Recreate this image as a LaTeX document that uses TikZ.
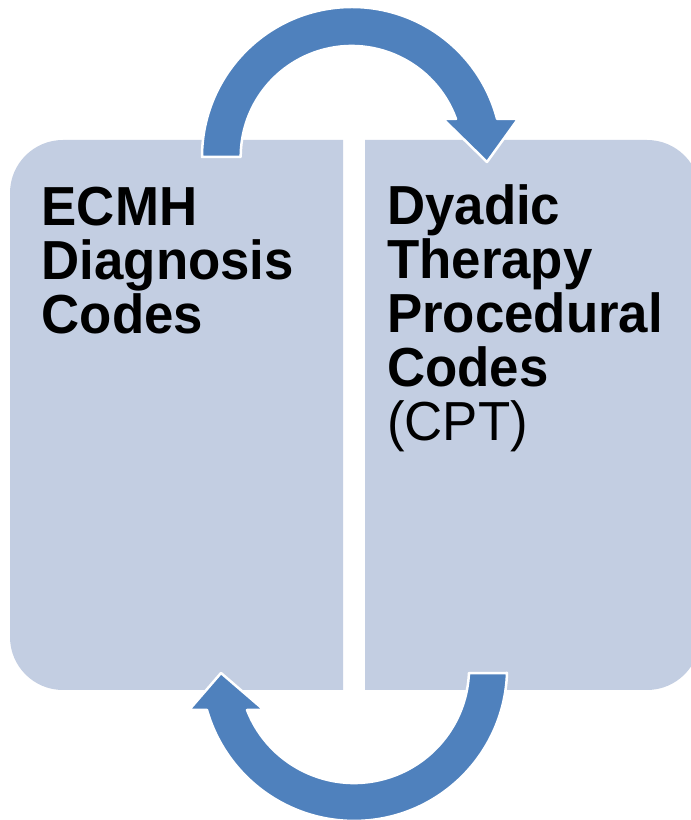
\documentclass[tikz,border=0pt]{standalone}
\usepackage{fontspec}
\setmainfont{Liberation Sans}
\newfontfamily\labelfont[FakeStretch=0.96]{Liberation Sans}
\definecolor{boxfill}{RGB}{195,206,226}
\definecolor{arrowblue}{RGB}{79,129,189}
\begin{document}
\begin{tikzpicture}[x=1pt,y=1pt,
  panel/.style={fill=boxfill, draw=none},
  cyclearrow/.style={fill=arrowblue, draw=white, line width=2.5pt, line join=round},
  label/.style={anchor=base west, inner sep=0pt, align=left, text=black,
    font=\labelfont\fontsize{55}{54}\selectfont}]
\clip (0,0) rectangle (691,820);
\fill[white] (0,0) rectangle (691,820);
% boxes
\path[panel] (343,680) -- (63,680) arc[start angle=90, end angle=180, radius=53]
  -- (10,183) arc[start angle=180, end angle=270, radius=53] -- (343,130) -- cycle;
\path[panel] (365,680) -- (647,680) arc[start angle=90, end angle=0, radius=53]
  -- (700,183) arc[start angle=0, end angle=-90, radius=53] -- (365,130) -- cycle;
% top arrow
\draw[cyclearrow] (202,663) arc[start angle=180, end angle=14.7, radius=150]
  -- (518,701) -- (487,658) -- (443,701) -- (456,701)
  arc[start angle=20, end angle=180, radius=111] -- cycle;
% bottom arrow
\draw[cyclearrow] (507,147) arc[start angle=-1.9, end angle=-164.1, radius=153]
  -- (189,110) -- (221,147) -- (264,110) -- (247,110)
  arc[start angle=-158.6, end angle=-2.5, radius=115] -- cycle;
% texts (anchored at the baseline of the last line)
\node[label] (left) at (41.5,486) {\bfseries ECMH\\\bfseries Diagnosis\\\bfseries Codes};
\node[label] (right) at (387,379) {\bfseries Dyadic\\\bfseries Therapy\\\bfseries Procedural\\\bfseries Codes\\(CPT)};
\end{tikzpicture}
\end{document}
